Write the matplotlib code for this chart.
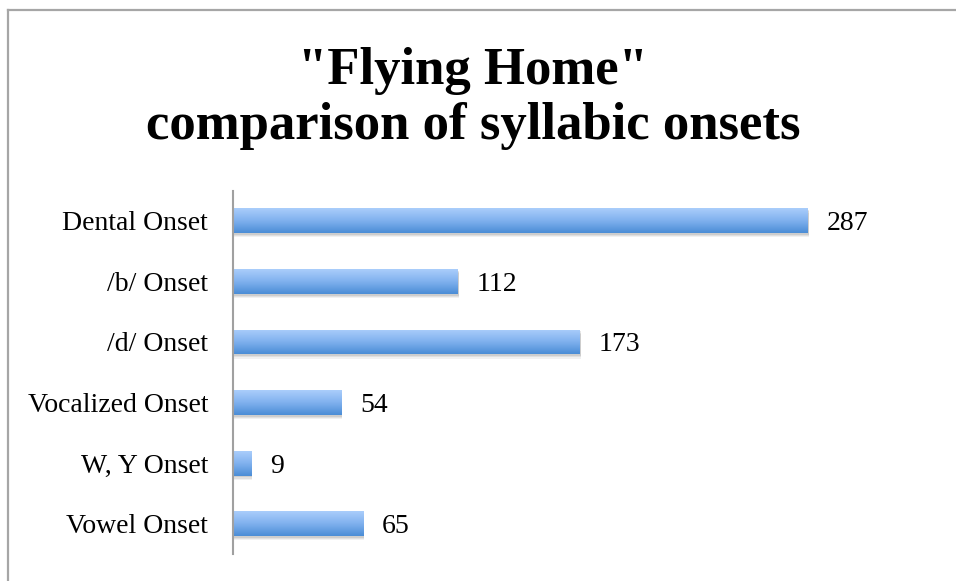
import numpy as np
import matplotlib.pyplot as plt
from matplotlib.colors import LinearSegmentedColormap
from matplotlib.lines import Line2D
from matplotlib.patches import Rectangle

categories = ["Dental Onset", "/b/ Onset", "/d/ Onset", "Vocalized Onset", "W, Y Onset", "Vowel Onset"]
counts = [287, 112, 173, 54, 9, 65]

W, H = 956, 581
fig = plt.figure(figsize=(W / 100, H / 100), dpi=100)
fig.patch.set_facecolor("white")

# frame like the spreadsheet chart border (cropped on right/bottom)
fig.add_artist(Line2D([8 / W, 8 / W], [0, 1 - 10 / H], color="#a6a6a6", lw=1.6, transform=fig.transFigure))
fig.add_artist(Line2D([8 / W, 1], [1 - 10 / H, 1 - 10 / H], color="#a6a6a6", lw=1.6, transform=fig.transFigure))

# title
fig.text(473 / W, 1 - 84 / H, '"Flying Home"', ha="center", va="baseline",
         fontsize=38, fontweight="bold", family="Liberation Serif")
fig.text(473 / W, 1 - 139 / H, "comparison of syllabic onsets", ha="center", va="baseline",
         fontsize=38, fontweight="bold", family="Liberation Serif")

ax_left, ax_right = 233, 900
ax_top, ax_bot = 190.5, 554
ax = fig.add_axes([ax_left / W, 1 - ax_bot / H, (ax_right - ax_left) / W, (ax_bot - ax_top) / H])
px_per_unit = 575 / 287
n = len(categories)
y = np.arange(n)

bar_h = 0.41
cmap = LinearSegmentedColormap.from_list("bluegrad", ["#aacdfb", "#80b1ee", "#4b8dd6"])
grad = np.linspace(0, 1, 64).reshape(-1, 1)

bars = ax.barh(y, counts, height=bar_h, color="none", zorder=3)
for yi, v, b in zip(y, counts, bars):
    # soft shadow
    for k, a in [(0.06, 0.10), (0.04, 0.14), (0.02, 0.18)]:
        ax.add_patch(Rectangle((0, yi - bar_h / 2 + k + 0.01), v + 0.6, bar_h, color="#7a7a7a",
                               alpha=a, lw=0, zorder=1))
    im = ax.imshow(grad, cmap=cmap, aspect="auto", extent=(0, v, yi + bar_h / 2, yi - bar_h / 2),
                   zorder=2, interpolation="bicubic")
    im.set_clip_path(b)
    ax.annotate(str(v), (v, yi), xytext=(19, 0), textcoords="offset pixels", va="center_baseline",
                ha="left", fontsize=20, family="Liberation Serif", color="black")

ax.set_xlim(0, (ax_right - ax_left) / px_per_unit)
ax.set_ylim(n - 0.5, -0.5)
ax.set_yticks(y)
ax.set_yticklabels(categories, fontsize=20, family="Liberation Serif")
for t in ax.get_yticklabels():
    t.set_verticalalignment("center_baseline")
ax.tick_params(axis="y", length=0, pad=18)
ax.set_xticks([])
for s in ["top", "right", "bottom"]:
    ax.spines[s].set_visible(False)
ax.spines["left"].set_color("#a0a0a0")
ax.spines["left"].set_linewidth(1.5)
ax.spines["left"].set_zorder(5)

fig.savefig("out.png", dpi=100, facecolor="white")
